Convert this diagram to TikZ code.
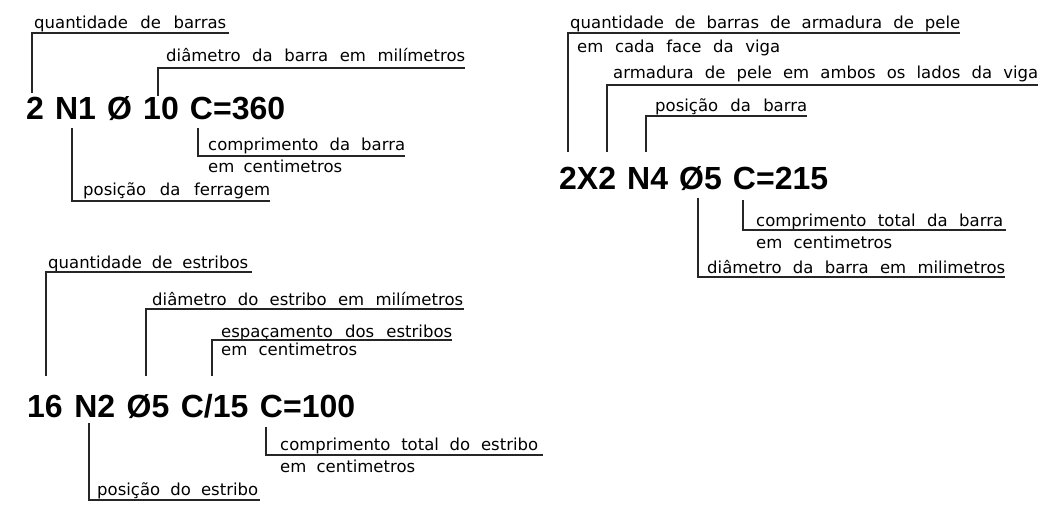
\documentclass[tikz,border=0pt]{standalone}
\usepackage{fontspec}
\newfontfamily\cadfont{DejaVu Sans}
\newfontfamily\codefont{Liberation Sans}
\tikzset{
  lbl/.style={inner sep=0pt, anchor=base west, text=black,
    font=\cadfont\fontsize{16.5pt}{18pt}\selectfont},
  code/.style={inner sep=0pt, anchor=base west, text=black,
    font=\codefont\bfseries\fontsize{32pt}{36pt}\selectfont},
  lead/.style={draw=black!85, line width=1.1pt}
}
\newcommand{\fitw}[2]{\makebox[#1pt][s]{#2}}
\begin{document}
\begin{tikzpicture}[x=1pt,y=-1pt]
\useasboundingbox[fill=white] (0,0) rectangle (1041,505);

% ---------- group 1 ----------
\node[code] (c1) at (26,120) {\fitw{259}{2 N1 Ø 10 C=360}};
\node[lbl] (t1) at (34,29) {\fitw{192}{quantidade de barras}};
\node[lbl] (t2) at (166,62) {\fitw{299}{diâmetro da barra em milímetros}};
\node[lbl] (t3) at (208,151) {\fitw{197}{comprimento da barra}};
\node[lbl] (t3b) at (208,173) {\fitw{134}{em centimetros}};
\node[lbl] (t4) at (83,196) {\fitw{187}{posição da ferragem}};
\coordinate (a1) at (32,93);   \coordinate (e1) at (229,33);
\coordinate (a2) at (158,96);  \coordinate (e2) at (465,68);
\coordinate (a3) at (198,128); \coordinate (e3) at (405,156);
\coordinate (a4) at (72,128);  \coordinate (e4) at (270,201);
\draw[lead] (a1) |- (e1);
\draw[lead] (a2) |- (e2);
\draw[lead] (a3) |- (e3);
\draw[lead] (a4) |- (e4);

% ---------- group 2 ----------
\node[code] (c2) at (559,190) {\fitw{269}{2X2 N4 Ø5 C=215}};
\node[lbl] (t5) at (570,29) {\fitw{390}{quantidade de barras de armadura de pele}};
\node[lbl] (t6) at (577,53) {\fitw{203}{em cada face da viga}};
\node[lbl] (t7) at (613,79) {\fitw{425}{armadura de pele em ambos os lados da viga}};
\node[lbl] (t8) at (655,112) {\fitw{152}{posição da barra}};
\node[lbl] (t9) at (756,226) {\fitw{247}{comprimento total da barra}};
\node[lbl] (t9b) at (756,248) {\fitw{136}{em centimetros}};
\node[lbl] (t10) at (707,273) {\fitw{298}{diâmetro da barra em milimetros}};
\coordinate (a5) at (568,152);  \coordinate (e5) at (960,33);
\coordinate (a7) at (607,152);  \coordinate (e7) at (1038,85);
\coordinate (a8) at (646,152);  \coordinate (e8) at (807,116);
\coordinate (a9) at (743,200);  \coordinate (e9) at (1006,230);
\coordinate (a10) at (698,198); \coordinate (e10) at (1005,277);
\draw[lead] (a5) |- (e5);
\draw[lead] (a7) |- (e7);
\draw[lead] (a8) |- (e8);
\draw[lead] (a9) |- (e9);
\draw[lead] (a10) |- (e10);

% ---------- group 3 ----------
\node[code] (c3) at (27,417) {\fitw{328}{16 N2 Ø5 C/15 C=100}};
\node[lbl] (t11) at (48,268) {\fitw{200}{quantidade de estribos}};
\node[lbl] (t12) at (152,305) {\fitw{311}{diâmetro do estribo em milímetros}};
\node[lbl] (t13) at (221,337) {\fitw{231}{espaçamento dos estribos}};
\node[lbl] (t13b) at (221,355) {\fitw{136}{em centimetros}};
\node[lbl] (t14) at (280,450) {\fitw{258}{comprimento total do estribo}};
\node[lbl] (t14b) at (280,472) {\fitw{135}{em centimetros}};
\node[lbl] (t15) at (97,495) {\fitw{161}{posição do estribo}};
\coordinate (a11) at (46,376);  \coordinate (e11) at (252,272);
\coordinate (a12) at (146,376); \coordinate (e12) at (464,309);
\coordinate (a13) at (212,376); \coordinate (e13) at (452,340);
\coordinate (a14) at (266,427); \coordinate (e14) at (543,455);
\coordinate (a15) at (89,423);  \coordinate (e15) at (260,500);
\draw[lead] (a11) |- (e11);
\draw[lead] (a12) |- (e12);
\draw[lead] (a13) |- (e13);
\draw[lead] (a14) |- (e14);
\draw[lead] (a15) |- (e15);
\end{tikzpicture}
\end{document}
